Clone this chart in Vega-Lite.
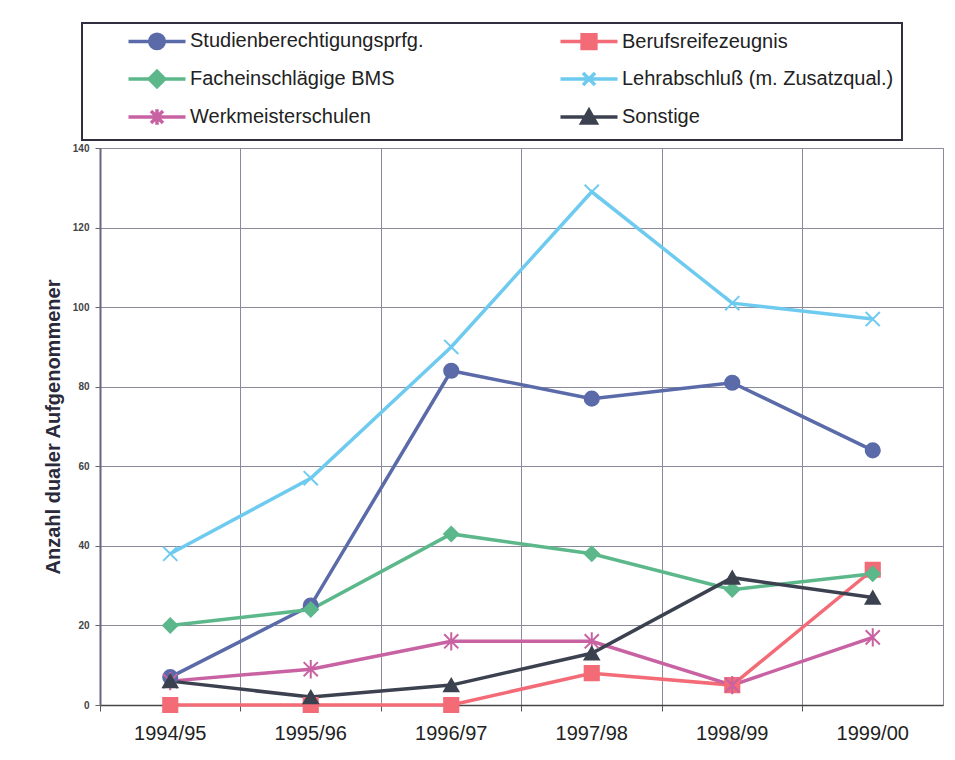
{
  "$schema": "https://vega.github.io/schema/vega-lite/v6.json",
  "width": 843,
  "height": 557,
  "autosize": {"type": "none"},
  "padding": {"left": 100, "top": 148, "right": 12, "bottom": 55},
  "background": "white",
  "config": {
    "font": "Liberation Sans",
    "view": {"stroke": "#8a8a9a", "strokeWidth": 1}
  },
  "data": {
    "values": [
      {"year": "1994/95", "series": "Studienberechtigungsprfg.", "value": 7},
      {"year": "1995/96", "series": "Studienberechtigungsprfg.", "value": 25},
      {"year": "1996/97", "series": "Studienberechtigungsprfg.", "value": 84},
      {"year": "1997/98", "series": "Studienberechtigungsprfg.", "value": 77},
      {"year": "1998/99", "series": "Studienberechtigungsprfg.", "value": 81},
      {"year": "1999/00", "series": "Studienberechtigungsprfg.", "value": 64},
      {"year": "1994/95", "series": "Berufsreifezeugnis", "value": 0},
      {"year": "1995/96", "series": "Berufsreifezeugnis", "value": 0},
      {"year": "1996/97", "series": "Berufsreifezeugnis", "value": 0},
      {"year": "1997/98", "series": "Berufsreifezeugnis", "value": 8},
      {"year": "1998/99", "series": "Berufsreifezeugnis", "value": 5},
      {"year": "1999/00", "series": "Berufsreifezeugnis", "value": 34},
      {"year": "1994/95", "series": "Facheinschlägige BMS", "value": 20},
      {"year": "1995/96", "series": "Facheinschlägige BMS", "value": 24},
      {"year": "1996/97", "series": "Facheinschlägige BMS", "value": 43},
      {"year": "1997/98", "series": "Facheinschlägige BMS", "value": 38},
      {"year": "1998/99", "series": "Facheinschlägige BMS", "value": 29},
      {"year": "1999/00", "series": "Facheinschlägige BMS", "value": 33},
      {"year": "1994/95", "series": "Lehrabschluß (m. Zusatzqual.)", "value": 38},
      {"year": "1995/96", "series": "Lehrabschluß (m. Zusatzqual.)", "value": 57},
      {"year": "1996/97", "series": "Lehrabschluß (m. Zusatzqual.)", "value": 90},
      {"year": "1997/98", "series": "Lehrabschluß (m. Zusatzqual.)", "value": 129},
      {"year": "1998/99", "series": "Lehrabschluß (m. Zusatzqual.)", "value": 101},
      {"year": "1999/00", "series": "Lehrabschluß (m. Zusatzqual.)", "value": 97},
      {"year": "1994/95", "series": "Werkmeisterschulen", "value": 6},
      {"year": "1995/96", "series": "Werkmeisterschulen", "value": 9},
      {"year": "1996/97", "series": "Werkmeisterschulen", "value": 16},
      {"year": "1997/98", "series": "Werkmeisterschulen", "value": 16},
      {"year": "1998/99", "series": "Werkmeisterschulen", "value": 5},
      {"year": "1999/00", "series": "Werkmeisterschulen", "value": 17},
      {"year": "1994/95", "series": "Sonstige", "value": 6},
      {"year": "1995/96", "series": "Sonstige", "value": 2},
      {"year": "1996/97", "series": "Sonstige", "value": 5},
      {"year": "1997/98", "series": "Sonstige", "value": 13},
      {"year": "1998/99", "series": "Sonstige", "value": 32},
      {"year": "1999/00", "series": "Sonstige", "value": 27}
    ]
  },
  "encoding": {
    "x": {
      "field": "year", "type": "ordinal", "sort": null, "bandPosition": 0.5,
      "scale": {"type": "band", "paddingInner": 0, "paddingOuter": 0},
      "axis": {
        "title": null, "bandPosition": 0, "grid": true, "gridColor": "#8a8a9a", "gridWidth": 1,
        "labelAngle": 0, "labelFontSize": 20, "labelColor": "#222222",
        "labelPadding": 12, "tickSize": 6, "tickColor": "#555555", "domainColor": "#444444", "domainWidth": 1.5
      }
    },
    "y": {
      "field": "value", "type": "quantitative",
      "scale": {"domain": [0, 140], "nice": false},
      "axis": {
        "title": "Anzahl dualer Aufgenommener", "values": [0, 20, 40, 60, 80, 100, 120, 140],
        "titleFontSize": 20, "titleFontWeight": "bold", "titleColor": "#2a2a3a", "titlePadding": 9,
        "labelFontSize": 10, "labelFontWeight": "bold", "labelColor": "#444444", "labelPadding": 6,
        "tickSize": 5, "tickColor": "#666666", "gridColor": "#8a8a9a", "domainColor": "#6b6580", "domainWidth": 2
      }
    },
    "color": {
      "field": "series", "type": "nominal",
      "scale": {
        "domain": ["Studienberechtigungsprfg.", "Berufsreifezeugnis", "Facheinschlägige BMS", "Lehrabschluß (m. Zusatzqual.)", "Werkmeisterschulen", "Sonstige"],
        "range": ["#5b6aa8", "#f26b76", "#5cb88b", "#6ecbef", "#c862a2", "#3c4150"]
      },
      "legend": {
        "title": null, "orient": "none", "legendX": -18, "legendY": -125, "columns": 2, "direction": "horizontal",
        "fillColor": "white", "strokeColor": "#2f2f3f", "padding": 8,
        "labelFontSize": 20, "labelColor": "#222222", "labelLimit": 600, "labelOffset": 23,
        "symbolOffset": 57,
        "symbolSize": 144, "symbolStrokeWidth": 3.5, "symbolOpacity": 1,
        "rowPadding": 8, "columnPadding": 98,
        "encode": {
          "symbols": {
            "update": {
              "shape": {"signal": "datum.value === 'Studienberechtigungsprfg.' ? 'M-4.75,0L4.75,0M-1.2,0A1.2,1.2,0,1,1,1.2,0A1.2,1.2,0,1,1,-1.2,0Z' : datum.value === 'Berufsreifezeugnis' ? 'M-4.75,0L4.75,0M-1.15,-1.15L1.15,-1.15L1.15,1.15L-1.15,1.15Z' : datum.value === 'Facheinschlägige BMS' ? 'M-4.75,0L4.75,0M0,-1.3L1.3,0L0,1.3L-1.3,0Z' : datum.value === 'Lehrabschluß (m. Zusatzqual.)' ? 'M-4.75,0L4.75,0M-1,-1L1,1M-1,1L1,-1' : datum.value === 'Werkmeisterschulen' ? 'M-4.75,0L4.75,0M-1,-1L1,1M-1,1L1,-1M0,-1.3L0,1.3' : 'M-4.75,0L4.75,0M0,-1.1L1.2,1L-1.2,1Z'"},
              "fill": {"scale": "color", "field": "value"},
              "stroke": {"scale": "color", "field": "value"},
              "strokeWidth": {"value": 3.5},
              "opacity": {"value": 1}
            }
          },
          "legend": {
            "update": {"strokeWidth": {"value": 2}, "width": {"value": 866}}
          }
        }
      }
    }
  },
  "layer": [
    {"mark": {"type": "line", "strokeWidth": 3.5}},
    {
      "mark": {"type": "point", "filled": true, "opacity": 1, "size": 200, "strokeWidth": 2},
      "encoding": {
        "shape": {
          "field": "series", "type": "nominal", "legend": null,
          "scale": {
            "domain": ["Sonstige", "Werkmeisterschulen", "Lehrabschluß (m. Zusatzqual.)", "Facheinschlägige BMS", "Berufsreifezeugnis", "Studienberechtigungsprfg."],
            "range": ["triangle-up", "M-1,-1L1,1M-1,1L1,-1M0,-1.3L0,1.3", "M-1,-1L1,1M-1,1L1,-1", "diamond", "square", "circle"]
          }
        },
        "stroke": {
          "field": "series", "type": "nominal", "legend": null,
          "scale": {
            "domain": ["Sonstige", "Werkmeisterschulen", "Lehrabschluß (m. Zusatzqual.)", "Facheinschlägige BMS", "Berufsreifezeugnis", "Studienberechtigungsprfg."],
            "range": ["#3c4150", "#c862a2", "#6ecbef", "#5cb88b", "#f26b76", "#5b6aa8"]
          }
        }
      }
    }
  ]
}
